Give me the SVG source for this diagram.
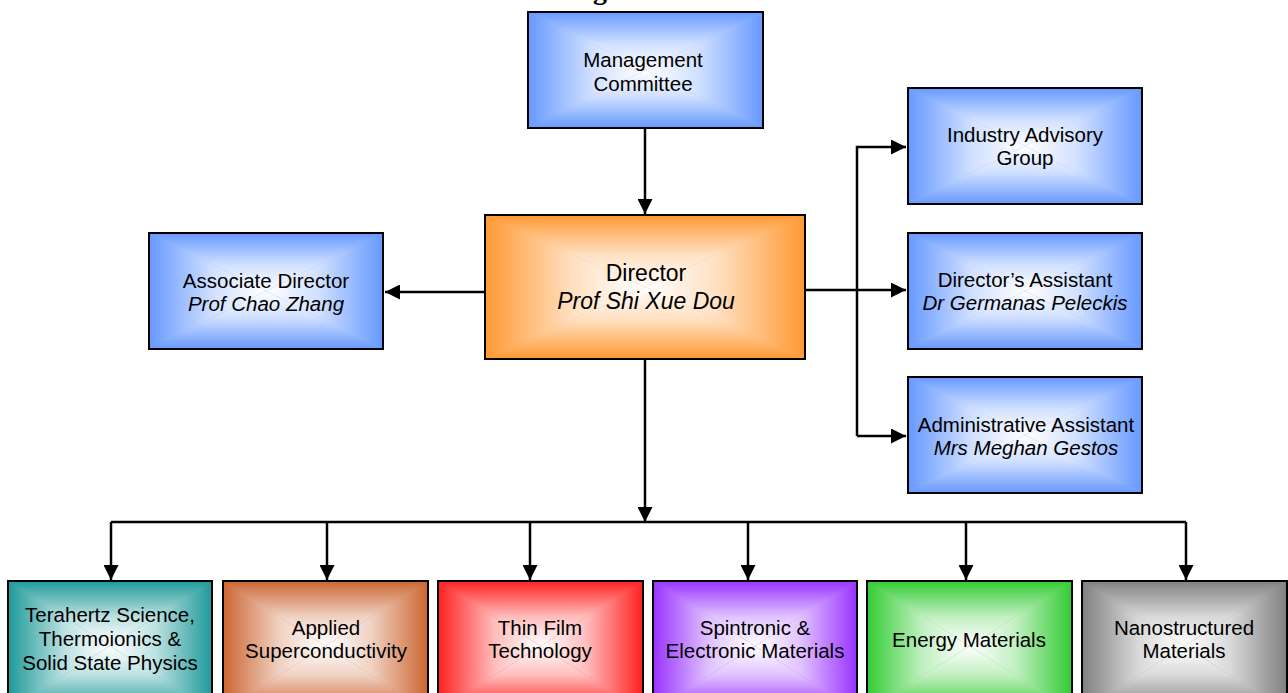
<svg xmlns="http://www.w3.org/2000/svg" xmlns:xlink="http://www.w3.org/1999/xlink" width="1288" height="693" viewBox="0 0 1288 693">
<style>
.box{stroke:#000;stroke-width:2}
.t{font-family:"Liberation Sans",Arial,sans-serif;font-size:20.5px;fill:#000;text-anchor:middle}
.big{font-size:23px}
.i{font-style:italic}
.ln{fill:none;stroke:#000;stroke-width:2.5}
</style>
<defs>
<linearGradient id="gT" x1="0" y1="0" x2="0" y2="1"><stop offset="0" stop-color="#fff" stop-opacity="0"/><stop offset="0.55" stop-color="#fff" stop-opacity="0.7"/><stop offset="1" stop-color="#fff" stop-opacity="1"/></linearGradient>
<linearGradient id="gB" x1="0" y1="1" x2="0" y2="0" xlink:href="#gT" href="#gT"/>
<linearGradient id="gL" x1="0" y1="0" x2="1" y2="0" xlink:href="#gT" href="#gT"/>
<linearGradient id="gR" x1="1" y1="0" x2="0" y2="0" xlink:href="#gT" href="#gT"/>
<symbol id="glow" viewBox="0 0 1 1" preserveAspectRatio="none">
<polygon points="0,0 1,0 0.5,0.5" fill="url(#gT)"/>
<polygon points="0,1 1,1 0.5,0.5" fill="url(#gB)"/>
<polygon points="0,0 0,1 0.5,0.5" fill="url(#gL)"/>
<polygon points="1,0 1,1 0.5,0.5" fill="url(#gR)"/>
</symbol>
<marker id="ah" markerUnits="userSpaceOnUse" markerWidth="15" markerHeight="15" refX="15" refY="7.5" orient="auto" viewBox="0 0 15 15">
<path d="M0,0 L15,7.5 L0,15 z" fill="#000"/>
</marker>
</defs>

<text x="600" y="-1" font-family="Liberation Serif, serif" font-weight="bold" font-size="28" text-anchor="middle">g</text>

<g id="connectors">
<line class="ln" x1="645" y1="128" x2="645" y2="214" marker-end="url(#ah)"/>
<line class="ln" x1="485" y1="292" x2="385" y2="292" marker-end="url(#ah)"/>
<line class="ln" x1="805" y1="290" x2="906" y2="290" marker-end="url(#ah)"/>
<path class="ln" d="M857,436 L857,147 L906,147" marker-end="url(#ah)"/>
<line class="ln" x1="857" y1="436" x2="906" y2="436" marker-end="url(#ah)"/>
<line class="ln" x1="645" y1="359" x2="645" y2="522" marker-end="url(#ah)"/>
<line class="ln" x1="111" y1="522" x2="1186" y2="522"/>
<line class="ln" x1="111" y1="522" x2="111" y2="580" marker-end="url(#ah)"/>
<line class="ln" x1="327" y1="522" x2="327" y2="580" marker-end="url(#ah)"/>
<line class="ln" x1="530" y1="522" x2="530" y2="580" marker-end="url(#ah)"/>
<line class="ln" x1="748" y1="522" x2="748" y2="580" marker-end="url(#ah)"/>
<line class="ln" x1="966" y1="522" x2="966" y2="580" marker-end="url(#ah)"/>
<line class="ln" x1="1186" y1="522" x2="1186" y2="580" marker-end="url(#ah)"/>
</g>

<g id="management">
<rect x="528" y="12" width="235" height="116" fill="#6699FF"/>
<use xlink:href="#glow" href="#glow" x="528" y="12" width="235" height="116"/>
<rect class="box" x="528" y="12" width="235" height="116" fill="none"/>
<text class="t" x="643" y="67">Management</text>
<text class="t" x="643" y="91">Committee</text>
</g>

<g id="director">
<rect x="485" y="215" width="320" height="144" fill="#FF9933"/>
<use xlink:href="#glow" href="#glow" x="485" y="215" width="320" height="144"/>
<rect class="box" x="485" y="215" width="320" height="144" fill="none"/>
<text class="t big" x="646" y="281">Director</text>
<text class="t big i" x="646" y="309">Prof Shi Xue Dou</text>
</g>

<g id="associate">
<rect x="149" y="233" width="234" height="116" fill="#6699FF"/>
<use xlink:href="#glow" href="#glow" x="149" y="233" width="234" height="116"/>
<rect class="box" x="149" y="233" width="234" height="116" fill="none"/>
<text class="t" x="266" y="288">Associate Director</text>
<text class="t i" x="266" y="311">Prof Chao Zhang</text>
</g>

<g id="industry">
<rect x="908" y="88" width="234" height="116" fill="#6699FF"/>
<use xlink:href="#glow" href="#glow" x="908" y="88" width="234" height="116"/>
<rect class="box" x="908" y="88" width="234" height="116" fill="none"/>
<text class="t" x="1025" y="142">Industry Advisory</text>
<text class="t" x="1025" y="165">Group</text>
</g>

<g id="dirassistant">
<rect x="908" y="233" width="234" height="116" fill="#6699FF"/>
<use xlink:href="#glow" href="#glow" x="908" y="233" width="234" height="116"/>
<rect class="box" x="908" y="233" width="234" height="116" fill="none"/>
<text class="t" x="1025" y="287">Director’s Assistant</text>
<text class="t i" x="1025" y="310">Dr Germanas Peleckis</text>
</g>

<g id="admin">
<rect x="908" y="377" width="234" height="116" fill="#6699FF"/>
<use xlink:href="#glow" href="#glow" x="908" y="377" width="234" height="116"/>
<rect class="box" x="908" y="377" width="234" height="116" fill="none"/>
<text class="t" x="1026" y="432">Administrative Assistant</text>
<text class="t i" x="1026" y="455">Mrs Meghan Gestos</text>
</g>

<g id="terahertz">
<rect x="8" y="581" width="204" height="130" fill="#1F9A9A"/>
<use xlink:href="#glow" href="#glow" x="8" y="581" width="204" height="130"/>
<rect class="box" x="8" y="581" width="204" height="130" fill="none"/>
<text class="t" x="110" y="622">Terahertz Science,</text>
<text class="t" x="110" y="646">Thermoionics &amp;</text>
<text class="t" x="110" y="670">Solid State Physics</text>
</g>

<g id="superconductivity">
<rect x="223" y="581" width="205" height="130" fill="#CC6633"/>
<use xlink:href="#glow" href="#glow" x="223" y="581" width="205" height="130"/>
<rect class="box" x="223" y="581" width="205" height="130" fill="none"/>
<text class="t" x="326" y="635">Applied</text>
<text class="t" x="326" y="658">Superconductivity</text>
</g>

<g id="thinfilm">
<rect x="438" y="581" width="205" height="130" fill="#FF2020"/>
<use xlink:href="#glow" href="#glow" x="438" y="581" width="205" height="130"/>
<rect class="box" x="438" y="581" width="205" height="130" fill="none"/>
<text class="t" x="540" y="635">Thin Film</text>
<text class="t" x="540" y="658">Technology</text>
</g>

<g id="spintronic">
<rect x="653" y="581" width="204" height="130" fill="#9933FF"/>
<use xlink:href="#glow" href="#glow" x="653" y="581" width="204" height="130"/>
<rect class="box" x="653" y="581" width="204" height="130" fill="none"/>
<text class="t" x="755" y="635">Spintronic &amp;</text>
<text class="t" x="755" y="658">Electronic Materials</text>
</g>

<g id="energy">
<rect x="867" y="581" width="205" height="130" fill="#33CC33"/>
<use xlink:href="#glow" href="#glow" x="867" y="581" width="205" height="130"/>
<rect class="box" x="867" y="581" width="205" height="130" fill="none"/>
<text class="t" x="969" y="647">Energy Materials</text>
</g>

<g id="nanostructured">
<rect x="1082" y="581" width="205" height="130" fill="#808080"/>
<use xlink:href="#glow" href="#glow" x="1082" y="581" width="205" height="130"/>
<rect class="box" x="1082" y="581" width="205" height="130" fill="none"/>
<text class="t" x="1184" y="635">Nanostructured</text>
<text class="t" x="1184" y="658">Materials</text>
</g>
</svg>
